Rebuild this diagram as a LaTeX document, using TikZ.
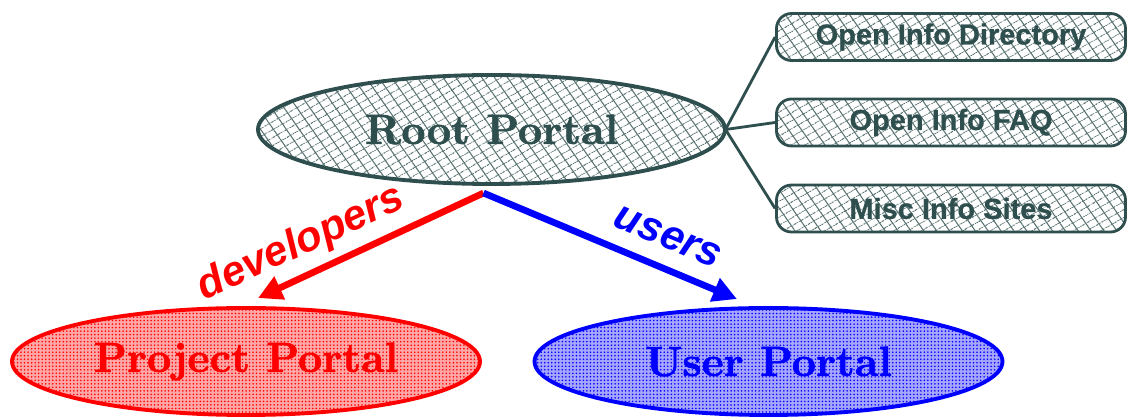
\documentclass[tikz,border=0pt]{standalone}
\usepackage{fontspec}
\usepackage{xcolor}
\usepackage{tikz}
\usetikzlibrary{calc, patterns, patterns.meta, arrows.meta, shapes.geometric}

\newfontfamily\labelfont{Liberation Sans}[BoldFeatures = {FakeBold = 0.6}]
\newfontfamily\portalfont{lmroman10-bold}[Extension = .otf, FakeBold = 1.4]
\definecolor{slate}{HTML}{2F4F4F}

\begin{document}
\begin{tikzpicture}[
		mesh/.style = {preaction = {pattern = {Lines[angle = 30, distance = 4pt, line width = 0.6pt]}, pattern color = slate!80}, pattern = {Lines[angle = -55, distance = 6pt, line width = 0.6pt]}, pattern color = slate!80},
		portal/.style = {ellipse, line width = 2.2pt, inner sep = 0pt, minimum width = 9.36cm, minimum height = 2.14cm, font = \portalfont\fontsize{24}{28}\selectfont},
		infobox/.style = {mesh, draw = slate, text = slate, rounded corners = 0.3cm, line width = 1.6pt, minimum width = 6.98cm, minimum height = 0.94cm, inner sep = 0pt, font = \labelfont\fontsize{16.5}{20}\selectfont\bfseries},
		flow/.style = {line width = 3.8pt, -{Triangle[length = 0.48cm, width = 0.48cm]}},
		flowlabel/.style = {sloped, font = \labelfont\fontsize{24}{28}\selectfont\bfseries\itshape},
	]
	\useasboundingbox (0,0) rectangle (22.56,-8.38);
	
	\node [portal, mesh, draw = slate, text = slate, minimum width = 9.34cm, minimum height = 2.18cm] (root) at (9.83,-2.59) {Root Portal};
	
	\node [portal, draw = red, text = red, preaction = {fill = red!35}, pattern = {Dots[distance = 2pt, radius = 0.5pt]}, pattern color = red] (project) at (4.92,-7.23) {Project Portal};
	\node [portal, draw = blue, text = blue, preaction = {fill = blue!35}, pattern = {Dots[distance = 2pt, radius = 0.5pt]}, pattern color = blue] (user) at (15.37,-7.23) {User Portal};
	
	\node [infobox] (directory) at (19.02,-0.74) {Open Info Directory};
	\node [infobox] (faq) at (19.02,-2.45) {Open Info FAQ};
	\node [infobox] (misc) at (19.02,-4.17) {Misc Info Sites};
	
	\foreach \site in {directory, faq, misc}
		\draw [slate, line width = 1.6pt] (root.east) -- (\site.west);
	
	\coordinate (fork) at ([xshift = -0.16cm, yshift = -0.17cm]root.south);
	
	\draw [flow, red] (fork) -- ([xshift = 0.24cm, yshift = 0.16cm]project.north) node [flowlabel, red, pos = 0.75, yshift = 0.62cm] {developers};
	\draw [flow, blue] (fork) -- ([xshift = -0.63cm, yshift = 0.14cm]user.north) node [flowlabel, blue, pos = 0.68, yshift = 0.62cm] {users};
	
\end{tikzpicture}
\end{document}
